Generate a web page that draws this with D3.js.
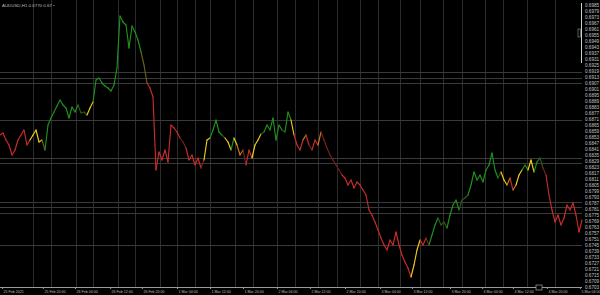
<!DOCTYPE html>
<html>
<head>
<meta charset="utf-8">
<script src="https://cdn.jsdelivr.net/npm/d3@7"></script>
<style>
  html, body { margin: 0; padding: 0; background: #000; }
  #wrapper { width: 600px; height: 295px; overflow: hidden; }
  text { font-family: "Liberation Sans", "DejaVu Sans", sans-serif; }
</style>
</head>
<body>
<div id="wrapper"></div>
<script>
// close prices, one per 3px
const closes = [
  0.6855, 0.6857, 0.6850, 0.6845, 0.6835, 0.6840, 0.6850, 0.6855, 0.6860, 0.6845,
  0.6850, 0.6855, 0.6860, 0.6848, 0.6850, 0.6840, 0.6865, 0.6872, 0.6878, 0.6884,
  0.6890, 0.6885, 0.6882, 0.6872, 0.6883, 0.6878, 0.6885, 0.6877, 0.6878, 0.6875,
  0.6882, 0.6888, 0.6910, 0.6912, 0.6907, 0.6904, 0.6902, 0.6899, 0.6905, 0.6922,
  0.6974, 0.6968, 0.6965, 0.6942, 0.6964, 0.6958, 0.6950, 0.6938, 0.6925, 0.6907,
  0.6902, 0.6893, 0.6820, 0.6838, 0.6830, 0.6840, 0.6828, 0.6865, 0.6862, 0.6858,
  0.6852, 0.6848, 0.6842, 0.6830, 0.6835, 0.6825, 0.6832, 0.6822, 0.6830, 0.6850,
  0.6852, 0.6860, 0.6870, 0.6858, 0.6855, 0.6852, 0.6848, 0.6840, 0.6852, 0.6845,
  0.6835, 0.6840, 0.6825, 0.6840, 0.6832, 0.6845, 0.6850, 0.6856, 0.6858, 0.6865,
  0.6860, 0.6872, 0.6850, 0.6865, 0.6860, 0.6858, 0.6878, 0.6870, 0.6855, 0.6845,
  0.6840, 0.6850, 0.6855, 0.6845, 0.6840, 0.6850, 0.6845, 0.6858, 0.6850, 0.6842,
  0.6835, 0.6830, 0.6825, 0.6820, 0.6815, 0.6812, 0.6805, 0.6810, 0.6802, 0.6808,
  0.6805, 0.6800, 0.6795, 0.6780, 0.6775, 0.6768, 0.6760, 0.6752, 0.6745, 0.6740,
  0.6750, 0.6745, 0.6758, 0.6745, 0.6735, 0.6728, 0.6722, 0.6713, 0.6725, 0.6740,
  0.6750, 0.6745, 0.6752, 0.6745, 0.6755, 0.6765, 0.6772, 0.6765, 0.6768, 0.6762,
  0.6775, 0.6785, 0.6790, 0.6780, 0.6790, 0.6792, 0.6795, 0.6805, 0.6818, 0.6810,
  0.6815, 0.6808, 0.6820, 0.6825, 0.6837, 0.6820, 0.6812, 0.6818, 0.6810, 0.6805,
  0.6812, 0.6800, 0.6805, 0.6815, 0.6820, 0.6825, 0.6820, 0.6830, 0.6818, 0.6828,
  0.6832, 0.6822, 0.6815, 0.6795, 0.6780, 0.6768, 0.6775, 0.6765, 0.6772, 0.6785,
  0.6780, 0.6787, 0.6775, 0.6758, 0.6770
]

// trend state of each bar: g green, d weak green, y yellow, o orange,
// l olive, r red, k weak red
const trend = (
  "rrrrrrrrrrr" + "yyyy" + "l" + "ggggggggggg" + "ddd" + "yy" +
  "gggggggggggggggg" + "ll" + "rrrrrrrrrrr" + "kk" + "rrrrr" + "k" +
  "yy" + "gggg" + "d" + "yy" + "g" + "y" + "oo" + "k" + "rr" + "yyy" +
  "d" + "gggggg" + "d" + "gg" + "y" + "rrr" + "o" + "r" + "k" + "rr" +
  "o" + "kkkkkkk" + "rrrrrrrrrrrrrrrrrrrrrrr" + "yyy" + "rr" + "k" +
  "ggg" + "ddd" + "gggg" + "ddd" + "gggggggggg" + "d" + "yy" + "o" +
  "r" + "o" + "yy" + "gg" + "yy" + "gg" + "d" + "k" + "rrrrrrrrrrrr"
).split("")

// horizontal levels drawn on the chart
const levels = [0.6918, 0.6912, 0.6907, 0.6870, 0.6832, 0.6827, 0.6788, 0.6783, 0.6777, 0.6745]

// vertical separators (bar index)
const gridBars = [11, 17, 25.3, 31, 39.3, 45, 53.3, 59, 65, 70, 78.3, 84.3, 92.3, 98.3,
  106, 112.3, 120, 126, 133.3, 140, 147.7, 154, 161.7, 167.7, 175.7, 185]

// time axis labels
const timeBars = [0.7, 14.3, 25, 36.7, 47.3, 59, 70, 81, 92.3, 103.3, 115, 126.7,
  137.3, 150, 160.7, 171, 182.3, 193.3]
const timeLabels = ["25 Feb 2021", "25 Feb 20:00", "26 Feb 04:00", "26 Feb 12:00",
  "26 Feb 20:00", "1 Mar 04:00", "1 Mar 12:00", "1 Mar 20:00", "2 Mar 04:00",
  "2 Mar 12:00", "2 Mar 20:00", "3 Mar 04:00", "3 Mar 12:00", "3 Mar 20:00",
  "4 Mar 04:00", "4 Mar 12:00", "4 Mar 20:00", "5 Mar 04:00"]

// price axis labels
const priceTicks = d3.range(0.6985, 0.6700, -0.0006)

const titleText = "AUDUSD,H1 0.6770 0.67 \u2022"

const colors = {
  g: "#1e921e", d: "#2c5818", y: "#efcb1c", o: "#c97a1c",
  l: "#666218", r: "#c82d2b", k: "#762020"
}

function drawChart() {

  // 1. dimensions
  let dimensions = {
    width: 600,
    height: 295,
    plotRight: 582,
    plotBottom: 287,
  }

  const wrapper = d3.select("#wrapper")
    .append("svg")
    .attr("width", dimensions.width)
    .attr("height", dimensions.height)
    .style("background", "#000")

  // 2. scales
  const xScale = d3.scaleLinear()
    .domain([0, closes.length - 1])
    .range([0, dimensions.plotRight])

  const yScale = d3.scaleLinear()
    .domain([0.6990 - 0.0287, 0.6990])
    .range([dimensions.plotBottom, 0])

  // 3. grid and levels
  wrapper.append("g")
    .selectAll("line")
    .data(gridBars)
    .join("line")
      .attr("x1", d => Math.round(xScale(d)) + 0.5)
      .attr("x2", d => Math.round(xScale(d)) + 0.5)
      .attr("y1", 0)
      .attr("y2", dimensions.plotBottom)
      .attr("stroke", "#2c2c2c")

  wrapper.append("g")
    .selectAll("line")
    .data(levels)
    .join("line")
      .attr("x1", 0)
      .attr("x2", dimensions.plotRight)
      .attr("y1", d => Math.round(yScale(d)) + 0.5)
      .attr("y2", d => Math.round(yScale(d)) + 0.5)
      .attr("stroke", "#3a3a3a")

  // 4. the line, one segment per bar so each takes its trend colour
  const lineGen = d3.line()
    .x(d => xScale(d.i))
    .y(d => yScale(d.v))

  const segments = d3.range(1, closes.length).map(i => ({
    pts: [{ i: i - 1, v: closes[i - 1] }, { i: i, v: closes[i] }],
    c: colors[trend[i]] || colors.r
  }))

  wrapper.append("g")
    .selectAll("path")
    .data(segments)
    .join("path")
      .attr("d", d => lineGen(d.pts))
      .attr("fill", "none")
      .attr("stroke", d => d.c)
      .attr("stroke-width", 1.15)
      .attr("stroke-linecap", "round")

  // 5. axes
  const xAxis = d3.axisBottom(xScale)
    .tickValues(timeBars)
    .tickSize(2)
    .tickFormat((d, i) => timeLabels[i])

  const xAxisG = wrapper.append("g")
    .attr("transform", `translate(0, ${dimensions.plotBottom})`)
    .call(xAxis)
  xAxisG.select(".domain")
    .attr("stroke", "#9a9a9a")
    .attr("d", `M0,0.5H${dimensions.plotRight}`)
  xAxisG.selectAll(".tick line").attr("stroke", "#9a9a9a")
  xAxisG.selectAll(".tick text")
    .attr("fill", "#bdbdbd")
    .attr("font-size", 3.6)
    .attr("text-anchor", "start")
    .attr("x", 1)
    .attr("y", 3)

  const yAxis = d3.axisRight(yScale)
    .tickValues(priceTicks)
    .tickSize(0)
    .tickPadding(3)
    .tickFormat(d3.format(".4f"))

  const yAxisG = wrapper.append("g")
    .attr("transform", `translate(${dimensions.plotRight}, 0)`)
    .call(yAxis)
  yAxisG.select(".domain").remove()
  yAxisG.selectAll(".tick text")
    .attr("fill", "#c4c4c4")
    .attr("font-size", 4.6)

  // 6. bits of chart furniture
  wrapper.append("text")
    .attr("x", 2)
    .attr("y", 7)
    .attr("fill", "#bdbdbd")
    .attr("font-size", 4.4)
    .text(titleText)

  wrapper.append("line")
    .attr("x1", 581.5).attr("x2", 581.5)
    .attr("y1", 3).attr("y2", 63)
    .attr("stroke", "#cfcfcf")

  wrapper.append("rect")
    .attr("x", 578).attr("y", 29)
    .attr("width", 2.5).attr("height", 8)
    .attr("fill", "none")
    .attr("stroke", "#9a9a9a")
    .attr("stroke-width", 0.6)

  wrapper.append("rect")
    .attr("x", 536).attr("y", 285)
    .attr("width", 6).attr("height", 5)
    .attr("fill", "#000")
    .attr("stroke", "#bdbdbd")
    .attr("stroke-width", 0.6)
}

drawChart()
</script>
</body>
</html>
